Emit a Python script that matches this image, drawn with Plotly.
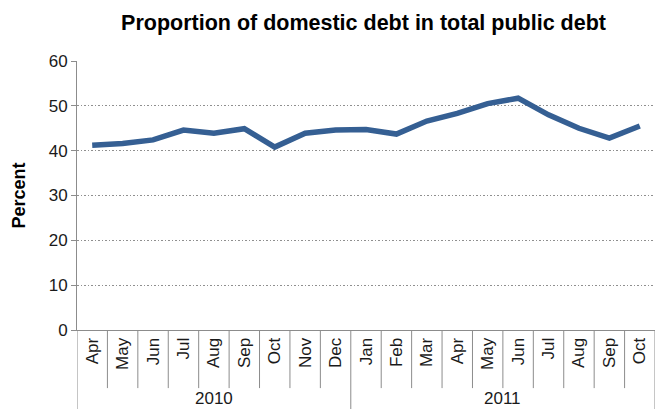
import plotly.graph_objects as go

months = ["Apr", "May", "Jun", "Jul", "Aug", "Sep", "Oct", "Nov", "Dec",
          "Jan", "Feb", "Mar", "Apr", "May", "Jun", "Jul", "Aug", "Sep", "Oct"]
years = ["2010"] * 9 + ["2011"] * 10
year_labels = ["2010", "2011"]
values = [41.2, 41.6, 42.4, 44.6, 43.9, 44.9, 40.8, 43.9, 44.6,
          44.7, 43.7, 46.6, 48.3, 50.5, 51.7, 48.0, 45.0, 42.8, 45.5]
yticks = [0, 10, 20, 30, 40, 50, 60]

FONT = "Arial, Liberation Sans, sans-serif"
x = list(range(len(months)))

fig = go.Figure()
fig.add_trace(go.Scatter(
    x=x, y=values, mode="lines",
    line=dict(color="#355f93", width=5.5),
    hoverinfo="skip", showlegend=False,
))

shapes = []
n = len(months)
# category boundary ticks
for i in range(n + 1):
    b = i - 0.5
    is_year = (i == 0) or (i == n) or (years[i] != years[i - 1] if 0 < i < n else False)
    shapes.append(dict(type="line", xref="x", yref="paper", x0=b, x1=b,
                       y0=0, y1=-0.30 if is_year else -0.216,
                       line=dict(color="#8c8c8c", width=1)))

annotations = []
for yl in year_labels:
    idx = [i for i, yy in enumerate(years) if yy == yl]
    center = (idx[0] + idx[-1]) / 2
    annotations.append(dict(x=center, y=-0.253, xref="x", yref="paper",
                            text=yl, showarrow=False, yanchor="middle",
                            font=dict(family=FONT, size=17, color="#1a1a1a")))

fig.update_layout(
    width=655, height=409,
    margin=dict(l=77, r=0, t=61, b=79),
    paper_bgcolor="white", plot_bgcolor="white",
    title=dict(text="<b>Proportion of domestic debt in total public debt</b>",
               x=0.555, xanchor="center", y=0.945, yanchor="middle",
               font=dict(family=FONT, size=21.5, color="#000000")),
    xaxis=dict(range=[-0.5, n - 0.5], tickmode="array", tickvals=x,
               ticktext=months, tickangle=-90, ticks="",
               showgrid=False, zeroline=False, showline=True,
               linecolor="#8c8c8c", linewidth=1,
               tickfont=dict(family=FONT, size=17, color="#1a1a1a")),
    yaxis=dict(range=[0, 60], tickmode="array", tickvals=yticks,
               ticks="outside", ticklen=5, tickcolor="#8c8c8c",
               showgrid=True, gridcolor="#8f8f8f", griddash="1.5px,2px", gridwidth=1.2,
               zeroline=False, showline=True, linecolor="#8c8c8c", linewidth=1,
               tickfont=dict(family=FONT, size=17, color="#1a1a1a"),
               title=dict(text="<b>Percent</b>", standoff=18,
                          font=dict(family=FONT, size=18, color="#000000"))),
    shapes=shapes, annotations=annotations,
)

fig.write_html("out.html")
